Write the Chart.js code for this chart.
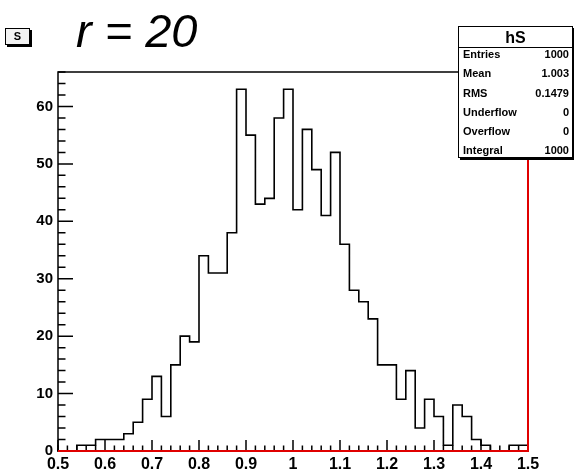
<!DOCTYPE html>
<html>
<head>
<meta charset="utf-8">
<script src="https://cdn.jsdelivr.net/npm/chart.js@4/dist/chart.umd.min.js"></script>
<style>
  body { margin: 0; background: #fff; font-family: "Liberation Sans", Arial, sans-serif; }
  #wrap { position: relative; width: 574px; height: 473px; overflow: hidden; }
  #title { position: absolute; left: 76px; top: 3px; font-size: 47px; font-style: italic; color: #000; white-space: nowrap; }
  #sbox { position: absolute; left: 5px; top: 28px; width: 23px; height: 15px; border: 1px solid #000; background: #f2f2f2;
          box-shadow: 2px 2px 0 #000; font-weight: bold; font-size: 11px; text-align: center; line-height: 15px; }
  #stats { position: absolute; left: 458px; top: 26px; width: 113px; height: 130px; border: 1px solid #000; background: #fff;
           box-shadow: 2px 2px 0 #000; font-weight: bold; overflow: hidden; }
  #stats .hd { height: 20px; line-height: 21px; text-align: center; font-size: 16px; border-bottom: 1px solid #000; }
  #stats .row { display: flex; justify-content: space-between; height: 19.3px; line-height: 19.3px; font-size: 11px; padding: 0 3px 0 4px; }
</style>
</head>
<body>
<div id="wrap">
  <canvas id="histo" width="574" height="473"></canvas>
  <div id="sbox">S</div>
  <div id="title">r = 20</div>
  <div id="stats"><div class="hd">hS</div></div>
</div>
<script>
// histogram hS: 50 bins from 0.5 to 1.5
const binLow = 0.5;
const binWidth = 0.02;
const counts = [
  1, 0, 0, 1, 1, 2, 2, 2, 3, 5,
  9, 13, 6, 15, 20, 19, 34, 31, 31, 38,
  63, 55, 43, 44, 58, 63, 42, 56, 49, 41,
  52, 36, 28, 26, 23, 15, 15, 9, 14, 4,
  9, 6, 1, 8, 6, 2, 1, 0, 0, 1
];
const xTicks = [0.5, 0.6, 0.7, 0.8, 0.9, 1, 1.1, 1.2, 1.3, 1.4, 1.5];
const yTicks = [0, 10, 20, 30, 40, 50, 60];
const yMax = 66;
const statLabels = ['Entries', 'Mean', 'RMS', 'Underflow', 'Overflow', 'Integral'];
const statValues = ['1000', '1.003', '0.1479', '0', '0', '1000'];

const stats = document.getElementById('stats');
statLabels.forEach((l, i) => {
  const row = document.createElement('div');
  row.className = 'row';
  row.innerHTML = `<span>${l}</span><span>${statValues[i]}</span>`;
  stats.appendChild(row);
});
stats.querySelector('.row').style.marginTop = '-3px';

const xMax = binLow + binWidth * counts.length;
const histPts = [{ x: binLow, y: 0 }];
counts.forEach((c, i) => histPts.push({ x: binLow + i * binWidth, y: c }));
histPts.push({ x: xMax, y: counts[counts.length - 1] });
histPts.push({ x: xMax, y: 0 });

// red line along zero and up the right edge
const redPts = [{ x: binLow, y: 0 }, { x: xMax, y: 0 }, { x: xMax, y: yMax }];

const rootFrame = {
  id: 'rootFrame',
  beforeDatasetsDraw(chart) {
    const { ctx, chartArea: a, scales } = chart;
    ctx.save();
    ctx.strokeStyle = '#000';
    ctx.lineWidth = 1.5;
    ctx.strokeRect(a.left, a.top, a.right - a.left, a.bottom - a.top);
    ctx.beginPath();
    // x ticks, major every 0.1, minor every 0.02
    for (let k = 0; k <= counts.length; k++) {
      const px = scales.x.getPixelForValue(binLow + k * binWidth);
      const len = k % 5 === 0 ? 11 : 5.5;
      ctx.moveTo(px, a.bottom);
      ctx.lineTo(px, a.bottom - len);
    }
    // y ticks, major every 10, minor every 2
    for (let v = 0; v <= yMax; v += 2) {
      const py = scales.y.getPixelForValue(v);
      const len = v % 10 === 0 ? 15 : 7.5;
      ctx.moveTo(a.left, py);
      ctx.lineTo(a.left + len, py);
    }
    ctx.stroke();
    ctx.restore();
  }
};

new Chart(document.getElementById('histo'), {
  type: 'line',
  data: {
    datasets: [
      {
        data: redPts,
        borderColor: '#e00000',
        borderWidth: 2,
        pointRadius: 0,
        fill: false,
        clip: 3,
        order: 0
      },
      {
        data: histPts,
        borderColor: '#000',
        borderWidth: 1.6,
        pointRadius: 0,
        stepped: 'after',
        fill: false,
        clip: 2,
        order: 1
      }
    ]
  },
  options: {
    responsive: false,
    animation: false,
    events: [],
    layout: { padding: { top: 72, right: 46, left: 0, bottom: 0 } },
    plugins: { legend: { display: false }, tooltip: { enabled: false } },
    scales: {
      x: {
        type: 'linear',
        min: binLow,
        max: xMax,
        afterBuildTicks: s => { s.ticks = xTicks.map(v => ({ value: v })); },
        afterFit: s => { s.height = 22; },
        grid: { display: false },
        border: { display: false },
        ticks: {
          maxRotation: 0,
          autoSkip: false,
          padding: -4,
          color: '#000',
          font: { family: 'Liberation Sans', size: 16, weight: 'bold' },
          callback: v => String(v)
        }
      },
      y: {
        min: 0,
        max: yMax,
        afterBuildTicks: s => { s.ticks = yTicks.map(v => ({ value: v })); },
        afterFit: s => { s.width = 58; },
        grid: { display: false },
        border: { display: false },
        ticks: {
          padding: -3,
          color: '#000',
          font: { family: 'Liberation Sans', size: 15, weight: 'bold' },
          callback: v => String(v)
        }
      }
    }
  },
  plugins: [rootFrame]
});
</script>
</body>
</html>
